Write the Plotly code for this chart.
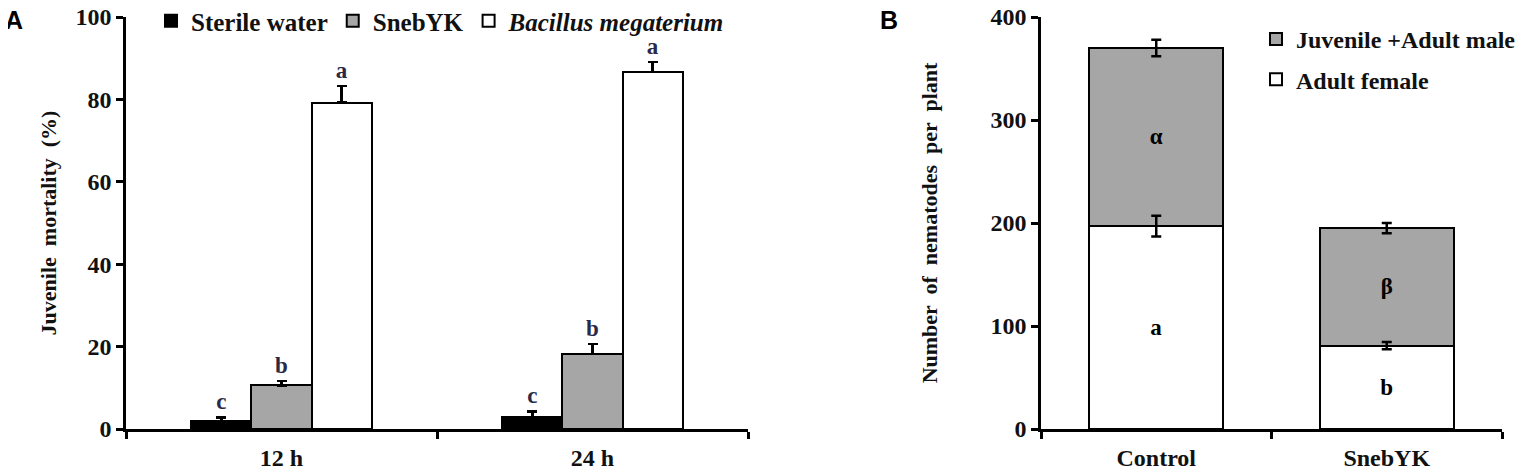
import plotly.graph_objects as go

# Panel A data
times = ["12 h", "24 h"]
a_series = ["Sterile water", "SnebYK", "<i>Bacillus megaterium</i>"]
a_values = [[2.0, 2.9], [10.6, 18.2], [79.2, 86.6]]
a_errors = [[0.8, 1.4], [1.0, 2.4], [4.0, 2.5]]
a_letters = [["c", "c"], ["b", "b"], ["a", "a"]]
a_colors = ["#000000", "#a6a6a6", "#ffffff"]

# Panel B data
groups = ["Control", "SnebYK"]
female = [197, 81]
female_err = [10, 3.5]
juvmale = [173, 114]
juvmale_err = [8, 5]
female_letters = ["a", "b"]
juvmale_letters = ["α", "β"]

SERIF = "Liberation Serif, Times New Roman, serif"
TXT = "#111111"

# page has an 8px body margin; figure sized to fit window
W, H, OFF = 1523, 462, 8


def px_x(p):
    return (p - OFF) / W


def px_y(p):
    return 1 - (p - OFF) / H


fig = go.Figure()

for name, vals, errs, col in zip(a_series, a_values, a_errors, a_colors):
    fig.add_trace(go.Bar(
        x=times, y=vals, name=name, marker=dict(color=col, line=dict(color="black", width=2)),
        error_y=dict(type="data", symmetric=False, array=errs, arrayminus=[0] * len(errs),
                     color="black", thickness=2.5, width=5),
        xaxis="x", yaxis="y", legend="legend", offsetgroup=name,
    ))

# letters above A bars (transparent bars aligned to grouped bars)
for i, (vals, errs, letters) in enumerate(zip(a_values, a_errors, a_letters)):
    fig.add_trace(go.Bar(
        x=times, y=[v + e for v, e in zip(vals, errs)], base=[0, 0],
        marker=dict(color="rgba(0,0,0,0)", line=dict(width=0)),
        text=letters, textposition="outside", cliponaxis=False,
        textfont=dict(family=SERIF, size=23, color="#2a2a48"),
        showlegend=False, hoverinfo="skip", xaxis="x", yaxis="y", offsetgroup=a_series[i],
    ))

fig.add_trace(go.Bar(
    x=groups, y=female, name="Adult female", legendgroup="f", legendrank=2,
    marker=dict(color="#ffffff", line=dict(color="black", width=2)),
    text=female_letters, textposition="inside", insidetextanchor="middle",
    textfont=dict(family=SERIF, size=23, color="black"),
    xaxis="x2", yaxis="y2", legend="legend2",
))
fig.add_trace(go.Bar(
    x=groups, y=juvmale, name="Juvenile +Adult male", legendgroup="j", legendrank=1,
    marker=dict(color="#a6a6a6", line=dict(color="black", width=2)),
    text=juvmale_letters, textposition="inside", insidetextanchor="middle",
    textfont=dict(family=SERIF, size=23, color="black"),
    xaxis="x2", yaxis="y2", legend="legend2",
))
# error bars for panel B drawn on top of the stacked bars
fig.add_trace(go.Scatter(
    x=groups, y=female, mode="markers", marker=dict(size=1, opacity=0),
    error_y=dict(type="data", array=female_err, color="black", thickness=2.5, width=5),
    showlegend=False, hoverinfo="skip", xaxis="x2", yaxis="y2",
))
fig.add_trace(go.Scatter(
    x=groups, y=[f + j for f, j in zip(female, juvmale)], mode="markers", marker=dict(size=1, opacity=0),
    error_y=dict(type="data", array=juvmale_err, color="black", thickness=2.5, width=5),
    showlegend=False, hoverinfo="skip", xaxis="x2", yaxis="y2",
))

axis_common = dict(showline=True, linecolor="black", linewidth=2.5, ticks="outside",
                   tickcolor="black", tickwidth=2.5, ticklen=7, showgrid=False, zeroline=False,
                   automargin=False, ticklabeloverflow="allow",
                   tickfont=dict(family=SERIF, size=24, color=TXT, weight="bold"))

ydom = [px_y(429), px_y(17)]
fig.update_layout(
    width=W, height=H, margin=dict(l=0, r=0, t=0, b=0, autoexpand=False),
    paper_bgcolor="white", plot_bgcolor="white",
    barmode="stack", bargap=0.42, bargroupgap=0,
    font=dict(family=SERIF, color=TXT, weight="bold"),
    xaxis=dict(domain=[px_x(126), px_x(748)], anchor="y", tickson="boundaries",
               ticklabelstandoff=5, **axis_common),
    yaxis=dict(domain=ydom, anchor="x", range=[0, 100], dtick=20,
               title=dict(text="Juvenile  mortality  (%)", font=dict(family=SERIF, size=22, color=TXT, weight="bold"), standoff=13),
               **axis_common),
    xaxis2=dict(domain=[px_x(1041), px_x(1502)], anchor="y2", tickson="boundaries",
                ticklabelstandoff=5, **axis_common),
    yaxis2=dict(domain=ydom, anchor="x2", range=[0, 400], dtick=100,
                title=dict(text="Number  of  nematodes  per  plant", font=dict(family=SERIF, size=22, color=TXT, weight="bold"), standoff=47),
                **axis_common),
    legend=dict(orientation="h", x=px_x(151), y=px_y(21), xanchor="left", yanchor="middle", traceorder="normal",
                font=dict(family=SERIF, size=25, color=TXT, weight="bold"), itemwidth=30, bgcolor="rgba(0,0,0,0)"),
    legend2=dict(orientation="v", x=px_x(1256), y=px_y(17), xanchor="left", yanchor="top", traceorder="grouped",
                 font=dict(family=SERIF, size=24, color=TXT, weight="bold"), itemwidth=30, tracegroupgap=6,
                 bgcolor="rgba(0,0,0,0)"),
    annotations=[
        dict(text="<b>A</b>", x=px_x(14), y=px_y(20), xref="paper", yref="paper", xanchor="center", yanchor="middle",
             showarrow=False, font=dict(family="Liberation Sans, Arial", size=25, color="black")),
        dict(text="<b>B</b>", x=px_x(889), y=px_y(20), xref="paper", yref="paper", xanchor="center", yanchor="middle",
             showarrow=False, font=dict(family="Liberation Sans, Arial", size=25, color="black")),
    ],
)
fig.write_html("out.html")
